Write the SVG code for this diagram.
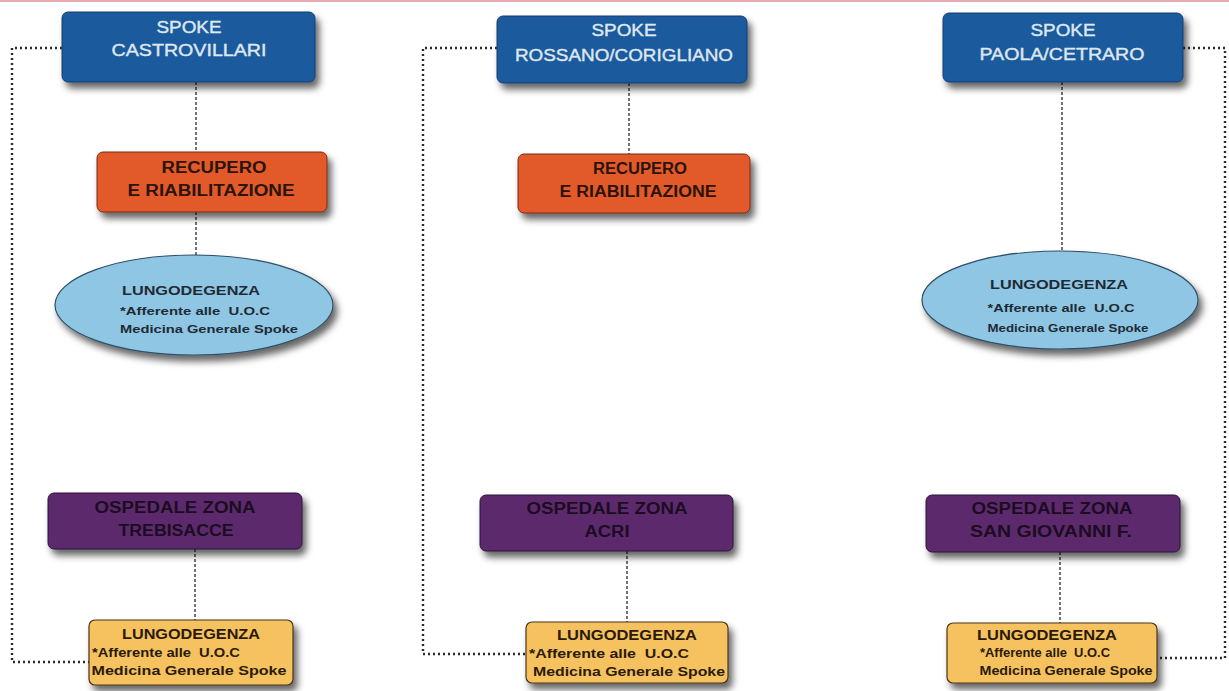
<svg xmlns="http://www.w3.org/2000/svg" width="1229" height="691" viewBox="0 0 1229 691">
<defs>
<filter id="sh" x="-20%" y="-30%" width="150%" height="180%">
<feDropShadow dx="4" dy="6" stdDeviation="3.5" flood-color="#000" flood-opacity="0.6"/>
</filter>
</defs>
<style>
text{font-family:"Liberation Sans",Arial,sans-serif;font-weight:bold;text-anchor:middle}
.blue{fill:#1e5a9e;stroke:#143f70;stroke-width:1}
.orange{fill:#e35a2b;stroke:#7a2a10;stroke-width:1}
.ell{fill:#8ec6e4;stroke:#2f4f66;stroke-width:1.2}
.purple{fill:#5b2a6c;stroke:#2e1238;stroke-width:1}
.yellow{fill:#f6c25f;stroke:#4a3418;stroke-width:1.2}
.tb{fill:#dfe7ef;font-size:17px;font-weight:normal;stroke:#dfe7ef;stroke-width:0.4}
.to{fill:#2a140c;font-size:16px}
.tp{fill:#1c0c22;font-size:16px}
.te1{fill:#1f2a33;font-size:12.5px}
.te2{fill:#1f2a33;font-size:11.5px}
.ty1{fill:#2a1a08;font-size:15px}
.ty2{fill:#2a1a08;font-size:12.5px}
.dot{fill:none;stroke:#2a2a2a;stroke-width:2.4;stroke-dasharray:2 3}
.dash{fill:none;stroke:#444;stroke-width:1.5;stroke-dasharray:3 2}
</style>
<rect width="1229" height="691" fill="#fff"/>
<line x1="0" y1="1" x2="1229" y2="1" stroke="#e6aab2" stroke-width="2"/>

<g id="connectors">
<path class="dot" d="M62,48 H12 V662 H89"/>
<path class="dot" d="M497,48 H423 V654 H526"/>
<path class="dot" d="M1183,48 H1225 V658 H1157"/>
<line class="dash" x1="196" y1="82" x2="196" y2="152"/>
<line class="dash" x1="196" y1="212" x2="196" y2="255"/>
<line class="dash" x1="195" y1="549" x2="195" y2="620"/>
<line class="dash" x1="629" y1="83" x2="629" y2="154"/>
<line class="dash" x1="627" y1="551" x2="627" y2="622"/>
<line class="dash" x1="1062" y1="82" x2="1062" y2="252"/>
<line class="dash" x1="1060" y1="552" x2="1060" y2="623"/>
</g>

<g id="spoke-castrovillari">
<rect class="blue" x="62" y="12" width="253" height="70" rx="6" filter="url(#sh)"/>
<text class="tb" x="189" y="33" textLength="65" lengthAdjust="spacingAndGlyphs">SPOKE</text>
<text class="tb" x="189" y="56" textLength="155" lengthAdjust="spacingAndGlyphs">CASTROVILLARI</text>
</g>
<g id="recupero-1">
<rect class="orange" x="97" y="152" width="230" height="60" rx="6" filter="url(#sh)"/>
<text class="to" x="214" y="173" textLength="105" lengthAdjust="spacingAndGlyphs">RECUPERO</text>
<text class="to" x="211" y="196" textLength="167" lengthAdjust="spacingAndGlyphs">E RIABILITAZIONE</text>
</g>
<g id="lungodegenza-ell-1">
<ellipse class="ell" cx="194" cy="305" rx="139" ry="50" filter="url(#sh)"/>
<text class="te1" x="191" y="295" textLength="138" lengthAdjust="spacingAndGlyphs">LUNGODEGENZA</text>
<text class="te2" x="195" y="315" textLength="150" lengthAdjust="spacingAndGlyphs">*Afferente alle&#160; U.O.C</text>
<text class="te2" x="209" y="333" textLength="178" lengthAdjust="spacingAndGlyphs">Medicina Generale Spoke</text>
</g>
<g id="ospedale-trebisacce">
<rect class="purple" x="48" y="493" width="254" height="56" rx="6" filter="url(#sh)"/>
<text class="tp" x="175" y="513" textLength="161" lengthAdjust="spacingAndGlyphs">OSPEDALE ZONA</text>
<text class="tp" x="176" y="536" textLength="115" lengthAdjust="spacingAndGlyphs">TREBISACCE</text>
</g>
<g id="lungodegenza-1">
<rect class="yellow" x="89" y="620" width="204" height="65" rx="6" filter="url(#sh)"/>
<text class="ty1" x="191" y="639" textLength="138" lengthAdjust="spacingAndGlyphs">LUNGODEGENZA</text>
<text class="ty2" x="166" y="657" textLength="148" lengthAdjust="spacingAndGlyphs">*Afferente alle&#160; U.O.C</text>
<text class="ty2" x="189" y="675" textLength="195" lengthAdjust="spacingAndGlyphs">Medicina Generale Spoke</text>
</g>

<g id="spoke-rossano">
<rect class="blue" x="497" y="16" width="250" height="67" rx="6" filter="url(#sh)"/>
<text class="tb" x="624" y="36" textLength="65" lengthAdjust="spacingAndGlyphs">SPOKE</text>
<text class="tb" x="624" y="61" textLength="218" lengthAdjust="spacingAndGlyphs">ROSSANO/CORIGLIANO</text>
</g>
<g id="recupero-2">
<rect class="orange" x="518" y="154" width="232" height="59" rx="6" filter="url(#sh)"/>
<text class="to" x="640" y="174" textLength="94" lengthAdjust="spacingAndGlyphs">RECUPERO</text>
<text class="to" x="638" y="197" textLength="157" lengthAdjust="spacingAndGlyphs">E RIABILITAZIONE</text>
</g>
<g id="ospedale-acri">
<rect class="purple" x="480" y="495" width="253" height="56" rx="6" filter="url(#sh)"/>
<text class="tp" x="607" y="514" textLength="161" lengthAdjust="spacingAndGlyphs">OSPEDALE ZONA</text>
<text class="tp" x="607" y="537" textLength="45" lengthAdjust="spacingAndGlyphs">ACRI</text>
</g>
<g id="lungodegenza-2">
<rect class="yellow" x="526" y="622" width="202" height="61" rx="6" filter="url(#sh)"/>
<text class="ty1" x="627" y="640" textLength="140" lengthAdjust="spacingAndGlyphs">LUNGODEGENZA</text>
<text class="ty2" x="609" y="658" textLength="160" lengthAdjust="spacingAndGlyphs">*Afferente alle&#160; U.O.C</text>
<text class="ty2" x="629" y="676" textLength="192" lengthAdjust="spacingAndGlyphs">Medicina Generale Spoke</text>
</g>

<g id="spoke-paola">
<rect class="blue" x="943" y="13" width="240" height="69" rx="6" filter="url(#sh)"/>
<text class="tb" x="1063" y="36" textLength="65" lengthAdjust="spacingAndGlyphs">SPOKE</text>
<text class="tb" x="1062" y="60" textLength="165" lengthAdjust="spacingAndGlyphs">PAOLA/CETRARO</text>
</g>
<g id="lungodegenza-ell-3">
<ellipse class="ell" cx="1060" cy="300" rx="138" ry="49" filter="url(#sh)"/>
<text class="te1" x="1059" y="289" textLength="138" lengthAdjust="spacingAndGlyphs">LUNGODEGENZA</text>
<text class="te2" x="1061" y="312" textLength="147" lengthAdjust="spacingAndGlyphs">*Afferente alle&#160; U.O.C</text>
<text class="te2" x="1068" y="332" textLength="161" lengthAdjust="spacingAndGlyphs">Medicina Generale Spoke</text>
</g>
<g id="ospedale-sangiovanni">
<rect class="purple" x="926" y="495" width="254" height="57" rx="6" filter="url(#sh)"/>
<text class="tp" x="1052" y="514" textLength="161" lengthAdjust="spacingAndGlyphs">OSPEDALE ZONA</text>
<text class="tp" x="1051" y="537" textLength="162" lengthAdjust="spacingAndGlyphs">SAN GIOVANNI F.</text>
</g>
<g id="lungodegenza-3">
<rect class="yellow" x="947" y="623" width="210" height="60" rx="6" filter="url(#sh)"/>
<text class="ty1" x="1047" y="640" textLength="140" lengthAdjust="spacingAndGlyphs">LUNGODEGENZA</text>
<text class="ty2" x="1045" y="657" textLength="130" lengthAdjust="spacingAndGlyphs">*Afferente alle&#160; U.O.C</text>
<text class="ty2" x="1066" y="675" textLength="173" lengthAdjust="spacingAndGlyphs">Medicina Generale Spoke</text>
</g>
</svg>
